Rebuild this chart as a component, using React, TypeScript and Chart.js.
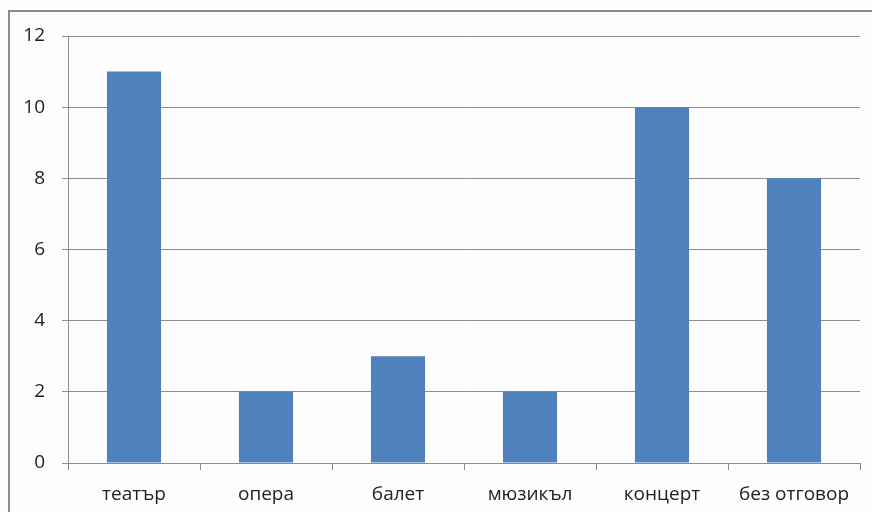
import React, { useEffect, useRef } from "react";
import { Chart, registerables } from "chart.js";

Chart.register(...registerables);

const categories = ["театър", "опера", "балет", "мюзикъл", "концерт", "без отговор"];
const values = [11, 2, 3, 2, 10, 8];
const yTicks = [0, 2, 4, 6, 8, 10, 12];

export default function App() {
  const ref = useRef<HTMLCanvasElement>(null);
  useEffect(() => {
    if (!ref.current) return;
    const font = { family: "'Open Sans', sans-serif", size: 19 };
    const chart = new Chart(ref.current, {
      type: "bar",
      data: {
        labels: categories,
        datasets: [
          {
            data: values,
            backgroundColor: "#4F81BD",
            borderWidth: 0,
            categoryPercentage: 1,
            barPercentage: 0.41,
          },
        ],
      },
      options: {
        animation: false,
        responsive: false,
        maintainAspectRatio: false,
        layout: { padding: { left: 0, top: 36, right: 12, bottom: 0 } },
        plugins: { legend: { display: false }, tooltip: { enabled: false } },
        scales: {
          x: {
            grid: {
              offset: true,
              drawOnChartArea: false,
              drawTicks: true,
              tickLength: 7,
              color: "#8c8c8c",
            },
            border: { color: "#8c8c8c", width: 1 },
            ticks: { color: "#222", font, padding: 13, maxRotation: 0, autoSkip: false },
            afterFit: (s: any) => {
              s.height = 49;
            },
          },
          y: {
            min: 0,
            max: 12,
            afterBuildTicks: (s: any) => {
              s.ticks = yTicks.map((v) => ({ value: v }));
            },
            grid: { color: "#8c8c8c", tickLength: 6, drawTicks: true },
            border: { color: "#8c8c8c", width: 1 },
            ticks: { color: "#222", font, padding: 17 },
            afterFit: (s: any) => {
              s.width = 68;
            },
          },
        },
      },
    });
    return () => chart.destroy();
  }, []);
  return (
    <div
      style={{
        position: "fixed",
        left: 0,
        top: 0,
        width: 872,
        height: 512,
        overflow: "hidden",
        background: "#fdfdfd",
      }}
    >
      <div
        style={{
          position: "absolute",
          left: 8,
          top: 10,
          width: 1000,
          height: 1000,
          border: "2px solid #8a8a8a",
          boxSizing: "border-box",
          boxShadow: "1px 1px 1px #ccc",
        }}
      />
      <canvas
        ref={ref}
        width={872}
        height={512}
        style={{ position: "absolute", left: 0, top: 0, width: 872, height: 512 }}
      />
    </div>
  );
}
